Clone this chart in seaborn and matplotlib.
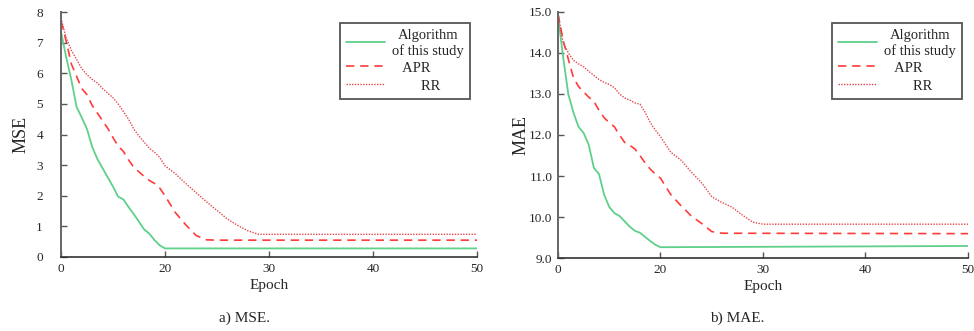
import numpy as np
import matplotlib
matplotlib.use('Agg')
import matplotlib.pyplot as plt
import seaborn as sns
import pandas as pd

sns.set_style('ticks')
plt.rcParams['font.family'] = ['Liberation Serif', 'DejaVu Serif']

# ---- data ----
# MSE panel
mse_ours_x = [0, 1, 2, 3, 4, 5, 6, 7, 8, 9, 10, 11, 12, 13, 14, 15, 16, 17, 18, 19, 20, 50]
mse_ours_y = [7.36, 6.53, 5.78, 4.9, 4.55, 4.18, 3.6, 3.2, 2.9, 2.6, 2.3, 1.97, 1.88, 1.63,
              1.4, 1.15, 0.9, 0.76, 0.55, 0.38, 0.28, 0.28]
mse_apr_x = [0, 1, 2, 3, 4, 5, 6, 7, 8, 9, 10, 11, 12, 13, 14, 15, 16, 17, 18, 19, 20,
             21, 22, 23, 24, 25, 50]
mse_apr_y = [7.7, 7.05, 6.3, 5.9, 5.5, 5.3, 4.95, 4.7, 4.45, 4.2, 3.9, 3.62, 3.45, 3.17,
             2.93, 2.78, 2.63, 2.5, 2.4, 2.25, 2.0, 1.45, 1.05, 0.7, 0.56, 0.55, 0.55]
mse_rr_x = [0, 1, 2, 3, 4, 5, 6, 7, 8, 9, 10, 11, 12, 13, 14, 15, 16, 17, 18, 19, 20,
            21, 22, 23, 24, 25, 26, 27, 28, 29, 50]
mse_rr_y = [7.8, 7.15, 6.75, 6.45, 6.15, 5.95, 5.8, 5.68, 5.5, 5.35, 5.2, 5.0, 4.75, 4.5,
            4.18, 3.95, 3.75, 3.55, 3.42, 3.25, 2.98, 2.72, 2.4, 2.1, 1.8, 1.52, 1.24,
            1.03, 0.85, 0.74, 0.74]

# MAE panel
mae_ours_x = [0, 1, 2, 3, 4, 5, 6, 7, 8, 9, 10, 11, 12, 13, 14, 15, 16, 17, 18, 19, 20, 50]
mae_ours_y = [14.9, 13.9, 13.0, 12.55, 12.2, 12.05, 11.76, 11.2, 11.05, 10.55, 10.25,
              10.1, 10.03, 9.9, 9.77, 9.67, 9.62, 9.52, 9.42, 9.33, 9.27, 9.3]
mae_apr_x = [0, 1, 2, 3, 4, 5, 6, 7, 8, 9, 10, 11, 12, 13, 14, 15, 16, 17, 18, 19, 20,
             21, 22, 23, 24, 25, 26, 50]
mae_apr_y = [14.95, 14.3, 13.85, 13.4, 13.18, 13.05, 12.92, 12.82, 12.6, 12.42, 12.3,
             12.2, 12.0, 11.82, 11.75, 11.66, 11.5, 11.32, 11.17, 11.05, 10.95, 10.55,
             10.28, 10.03, 9.85, 9.65, 9.61, 9.6]
mae_rr_x = [0, 1, 2, 3, 4, 5, 6, 7, 8, 9, 10, 11, 12, 13, 14, 15, 16, 17, 18, 19, 20,
            21, 22, 23, 24, 25, 26, 27, 28, 29, 30, 50]
mae_rr_y = [14.95, 14.25, 14.0, 13.82, 13.73, 13.66, 13.55, 13.45, 13.35, 13.28, 13.23,
            13.15, 13.0, 12.9, 12.85, 12.78, 12.75, 12.55, 12.3, 12.12, 11.96, 11.58,
            11.39, 11.1, 10.84, 10.5, 10.36, 10.24, 10.05, 9.88, 9.83, 9.83]

x_ticks = [0, 20, 30, 40, 50]
mse_ticks = [0, 1, 2, 3, 4, 5, 6, 7, 8]
mae_ticks = [9.0, 10.0, 11.0, 12.0, 13.0, 14.0, 15.0]
labels = ['Algorithm\nof this study', '   APR', '        RR']


# the epoch axis is squeezed: 0-20 takes the same room as 20-30
def fwd(e):
    e = np.asarray(e, dtype=float)
    return np.where(e <= 20, e / 20.0, 1.0 + (e - 20.0) / 10.0)


def inv(p):
    p = np.asarray(p, dtype=float)
    return np.where(p <= 1, p * 20.0, 20.0 + (p - 1.0) * 10.0)


green = '#5fd08a'
red = '#ff3b3b'
pink = '#e4474c'

fig = plt.figure(figsize=(9.74, 3.31), dpi=100)
ax1 = fig.add_axes([0.0626, 0.2236, 0.4271, 0.7401])
ax2 = fig.add_axes([0.5729, 0.2196, 0.4209, 0.7451])


def draw(ax, series, ylim, yticks, yfmt, ylabel, legend_x, ypad, ylabelpad):
    handles = []
    for (xs, ys), col, ls, lw in zip(series, [green, red, pink],
                                     ['-', (0, (5, 3.5)), (0, (1, 1))], [1.3, 1.2, 1.0]):
        df = pd.DataFrame({'epoch': xs, 'val': ys})
        sns.lineplot(data=df, x='epoch', y='val', ax=ax, color=col, linestyle=ls,
                     linewidth=lw, estimator=None, sort=False)
        handles.append(ax.lines[-1])
    ax.set_xscale('function', functions=(fwd, inv))
    ax.set_xlim(0, 50)
    ax.set_ylim(*ylim)
    ax.set_xticks(x_ticks)
    ax.set_xticklabels([str(t) for t in x_ticks])
    ax.set_yticks(yticks)
    ax.set_yticklabels([yfmt.format(t) for t in yticks])
    ax.minorticks_off()
    ax.tick_params(direction='in', length=4, width=1, labelsize=9.5, color='#555555')
    ax.tick_params(axis='x', pad=4)
    ax.tick_params(axis='y', pad=ypad)
    for s in ['top', 'right']:
        ax.spines[s].set_visible(False)
    ax.spines['left'].set_color('#666666')
    ax.spines['bottom'].set_color('#333333')
    ax.spines['left'].set_linewidth(1.4)
    ax.spines['bottom'].set_linewidth(1.2)
    ax.set_xlabel('Epoch', fontsize=11, labelpad=3)
    ax.set_ylabel(ylabel, fontsize=13, labelpad=ylabelpad)
    leg = ax.legend(handles, labels, loc='upper right',
                    bbox_to_anchor=(legend_x, 0.9305), bbox_transform=fig.transFigure,
                    fontsize=10.5, frameon=True, fancybox=False, edgecolor='#555555',
                    framealpha=1, handlelength=2.7, handletextpad=0.5,
                    handleheight=1.3, labelspacing=0.12, borderpad=0.4,
                    borderaxespad=0)
    leg.get_frame().set_linewidth(1.3)
    for t in leg.get_texts():
        t.set_multialignment('center')


draw(ax1, [(mse_ours_x, mse_ours_y), (mse_apr_x, mse_apr_y), (mse_rr_x, mse_rr_y)],
     (0, 8), mse_ticks, '{:d}', 'MSE', 0.4826, 13, 5)
draw(ax2, [(mae_ours_x, mae_ours_y), (mae_apr_x, mae_apr_y), (mae_rr_x, mae_rr_y)],
     (9, 15), mae_ticks, '{:.1f}', 'MAE', 0.9877, 4, 0)

fig.text(0.2515, 0.037, 'a) MSE.', ha='center', va='center', fontsize=11)
fig.text(0.7567, 0.037, 'b) MAE.', ha='center', va='center', fontsize=11)

fig.savefig('out.png', dpi=100)
